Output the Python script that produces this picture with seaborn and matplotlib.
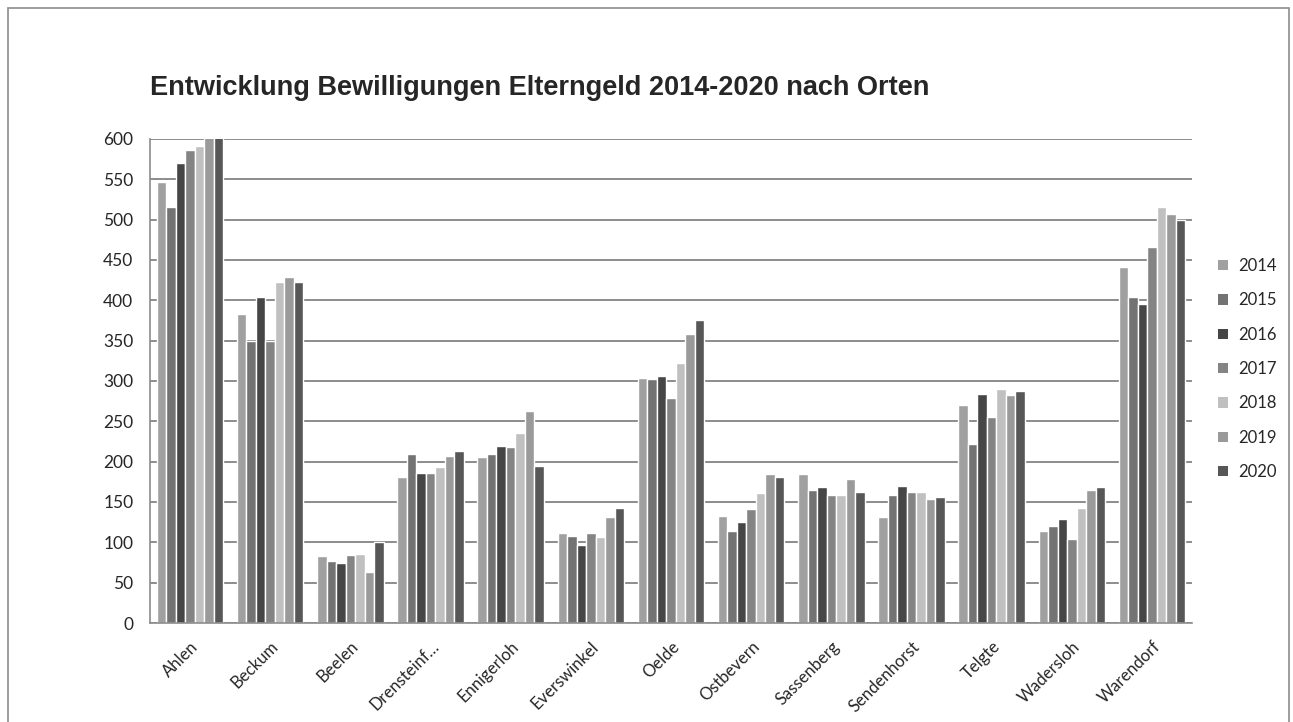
import matplotlib
matplotlib.use("Agg")
import matplotlib.pyplot as plt
import matplotlib.patches as mpatches
from matplotlib.ticker import FixedLocator, NullFormatter
import numpy as np
import pandas as pd
import seaborn as sns

# Elterngeld approvals per municipality, 2014-2020
orte = ["Ahlen", "Beckum", "Beelen", "Drensteinf…", "Ennigerloh", "Everswinkel",
        "Oelde", "Ostbevern", "Sassenberg", "Sendenhorst", "Telgte",
        "Wadersloh", "Warendorf"]
jahre = ["2014", "2015", "2016", "2017", "2018", "2019", "2020"]

w2014 = [547, 383, 83, 181, 206, 111, 304, 133, 185, 131, 270, 114, 441]
w2015 = [516, 350, 77, 210, 209, 108, 302, 114, 165, 159, 222, 120, 404]
w2016 = [570, 404, 74, 186, 220, 97, 306, 125, 168, 170, 284, 129, 395]
w2017 = [586, 350, 84, 186, 218, 111, 279, 141, 159, 163, 255, 104, 466]
w2018 = [591, 423, 86, 193, 236, 106, 322, 161, 159, 163, 290, 143, 516]
w2019 = [605, 429, 63, 207, 263, 131, 358, 185, 179, 154, 283, 165, 507]
w2020 = [612, 423, 100, 213, 195, 143, 376, 181, 163, 156, 288, 168, 500]

farben = ["#a0a0a0", "#737373", "#464646", "#848484", "#c0c0c0", "#9a9a9a", "#575757"]

serien = [w2014, w2015, w2016, w2017, w2018, w2019, w2020]
df = pd.DataFrame({
    "Ort": [o for s in serien for o in orte],
    "Jahr": [j for j, s in zip(jahre, serien) for _ in s],
    "Anzahl": [v for s in serien for v in s],
})

sns.set_style("white")
plt.rcParams["font.family"] = ["Lato", "DejaVu Sans"]

fig = plt.figure(figsize=(12.93, 7.22), dpi=100)
ax = fig.add_axes([150 / 1293, 1 - 623 / 722, (1192 - 150) / 1293, (623 - 139) / 722])

sns.barplot(data=df, x="Ort", y="Anzahl", hue="Jahr", order=orte, hue_order=jahre,
            palette=farben, width=0.83, saturation=1, ax=ax, legend=False,
            errorbar=None)

ax.set_ylim(0, 600)
ax.set_xlim(-0.5, len(orte) - 0.5)
ax.set_yticks(np.arange(0, 601, 50))
ax.yaxis.grid(True, color="#8c8c8c", linewidth=1.4)
ax.set_axisbelow(True)
ax.set_xlabel("")
ax.set_ylabel("")

for s in ["top", "right"]:
    ax.spines[s].set_visible(False)
for s in ["left", "bottom"]:
    ax.spines[s].set_color("#8c8c8c")
    ax.spines[s].set_linewidth(1.2)

# category labels centred, tick marks on the category boundaries
ax.set_xticks(range(len(orte)))
ax.set_xticklabels(orte, rotation=45, ha="right", rotation_mode="anchor", fontsize=12)
ax.tick_params(axis="x", which="major", length=0, pad=11)
ax.xaxis.set_minor_locator(FixedLocator(np.arange(-0.5, len(orte), 1.0)))
ax.xaxis.set_minor_formatter(NullFormatter())
ax.tick_params(axis="x", which="minor", length=6, color="#8c8c8c", width=1.2, direction="out")
ax.tick_params(axis="y", length=6, color="#8c8c8c", width=1.2, labelsize=12.5, pad=6)

fig.text(150 / 1293, 1 - 88 / 722, "Entwicklung Bewilligungen Elterngeld 2014-2020 nach Orten",
         family="Liberation Sans", fontweight="bold", fontsize=19.5, va="center", ha="left")

handles = [mpatches.Patch(facecolor=c, edgecolor="none", label=j) for j, c in zip(jahre, farben)]
fig.legend(handles=handles, loc="center left", bbox_to_anchor=(1203 / 1293, 1 - 369 / 722),
           frameon=False, fontsize=12, handlelength=0.6, handleheight=0.6,
           handletextpad=0.6, labelspacing=1.1)

# outer chart frame
fig.patches.append(mpatches.Rectangle((8 / 1293, -0.01), (1289 - 8) / 1293, 1 - 8 / 722 + 0.01,
                                      transform=fig.transFigure, fill=False,
                                      edgecolor="#8c8c8c", linewidth=1.2))

fig.savefig("out.png", dpi=100)
